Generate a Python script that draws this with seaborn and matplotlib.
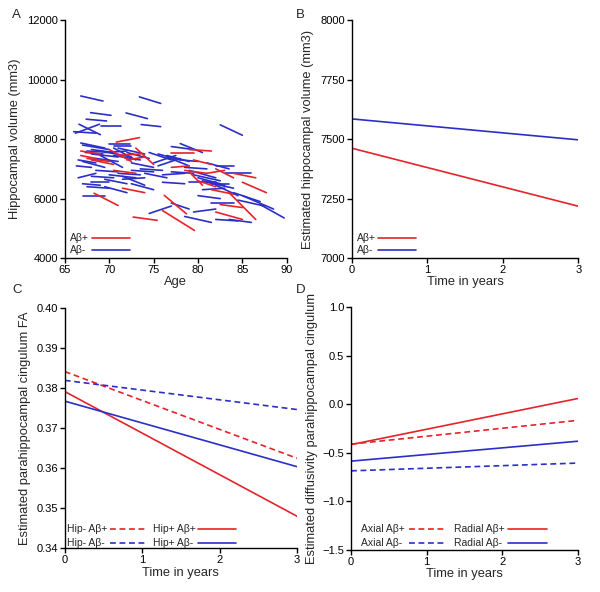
import matplotlib
matplotlib.use("Agg")
import matplotlib.pyplot as plt
import matplotlib.ticker as mticker
import pandas as pd
import seaborn as sns

RED = "#E5232B"
BLUE = "#2B2FC7"

# Panel A: individual trajectories (age start, age end, volume start, volume end)
A_NEG_AGE0 = [66.8, 73.4, 67.9, 71.9, 67.4, 69.1, 73.6, 66.2, 66.6, 66.0, 82.5,
              66.8, 67.0, 70.0, 70.5, 67.5, 67.3, 68.0, 69.0, 70.5, 71.0, 66.5, 67.0,
              68.5, 66.3, 69.0, 72.0, 66.5, 68.0, 69.5, 70.0, 71.5, 72.5, 67.0, 67.5,
              68.0, 67.0, 71.0, 72.5, 71.5, 69.5,
              74.5, 75.5, 76.5, 75.5, 77.0, 78.0, 76.0, 77.0, 78.5, 79.0, 80.0, 80.5,
              79.0, 81.0, 81.5, 82.0, 74.5, 77.0, 78.5, 79.5, 80.0, 81.5, 81.0, 82.0,
              83.0, 84.0, 85.0, 87.0, 82.0, 83.5, 74.0, 76.0,
              68.0, 69.5, 70.5, 72.5, 73.5, 75.0, 76.5, 78.0, 79.5, 80.5, 84.5, 68.5]
A_NEG_AGE1 = [69.3, 75.8, 70.2, 74.3, 69.7, 71.3, 75.8, 68.9, 69.0, 68.5, 85.0,
              69.5, 70.0, 72.3, 72.5, 70.5, 69.3, 71.0, 72.5, 73.0, 74.0, 68.5, 69.5,
              71.0, 68.0, 71.5, 74.5, 68.5, 70.5, 72.0, 73.0, 74.0, 75.0, 69.0, 70.0,
              70.0, 69.5, 73.5, 75.0, 74.0, 72.0,
              77.0, 78.0, 79.0, 78.0, 79.5, 80.5, 78.5, 79.5, 81.0, 82.0, 82.5, 83.0,
              82.0, 84.0, 83.5, 84.5, 77.0, 79.0, 81.5, 82.0, 82.5, 84.0, 83.5, 84.0,
              86.0, 87.0, 88.5, 89.7, 84.5, 86.0, 76.5, 78.5,
              70.5, 72.0, 73.5, 75.0, 76.0, 77.5, 79.0, 80.0, 82.5, 83.0, 87.5, 71.0]
A_NEG_VOL0 = [9450, 9420, 8890, 8880, 8670, 8450, 8490, 8200, 8500, 8250, 8480,
              7870, 7800, 7850, 7780, 7600, 7550, 7500, 7600, 7700, 7700, 7300, 7250,
              7350, 7100, 7450, 7550, 6700, 6750, 6650, 6800, 6750, 6500, 6500, 6400,
              6550, 6100, 6850, 6950, 6650, 6400,
              7550, 7500, 7400, 7100, 7750, 7850, 6800, 6900, 7050, 6950, 6700, 6600,
              6550, 6550, 6500, 6450, 5500, 5850, 5400, 5550, 6100, 5850, 7200, 7100,
              6850, 6200, 6100, 5800, 5300, 5300, 6850, 6550,
              7650, 7550, 7450, 7200, 7000, 7200, 7450, 7300, 6800, 6300, 5950, 6950]
A_NEG_VOL1 = [9280, 9200, 8800, 8690, 8610, 8450, 8420, 8500, 8150, 8200, 8130,
              7700, 7650, 7850, 7780, 7550, 7500, 7400, 7400, 7300, 7500, 7200, 7050,
              7250, 7050, 7050, 7350, 6850, 6700, 6500, 6700, 6450, 6300, 6450, 6350,
              6550, 6100, 6800, 6900, 6700, 6200,
              7300, 7300, 7100, 7350, 7650, 7550, 6850, 6850, 7000, 6700, 6500, 6450,
              6550, 6350, 6500, 6100, 5750, 5650, 5200, 5650, 6000, 5850, 7000, 7100,
              6850, 5900, 5650, 5350, 5250, 5200, 6700, 6500,
              7550, 7600, 7300, 7050, 6950, 7450, 7250, 7250, 6600, 6350, 5750, 6900]

A_POS_AGE0 = [70.8, 73.0, 66.8, 68.0, 70.0, 71.0, 66.8, 70.5, 71.5, 68.3, 72.7,
              76.2, 76.0, 77.0, 79.0, 77.0, 78.5, 81.0, 82.0, 84.0, 85.0, 79.0,
              83.5, 82.5, 82.0, 80.0, 67.5, 72.0, 79.5, 81.5]
A_POS_AGE1 = [73.4, 75.0, 68.5, 70.5, 72.5, 73.5, 69.0, 73.0, 74.0, 71.0, 75.4,
              78.7, 79.6, 79.5, 81.5, 79.0, 81.0, 83.0, 84.0, 86.5, 87.7, 80.5,
              86.5, 85.0, 85.0, 82.0, 70.0, 74.0, 81.5, 84.0]
A_POS_VOL0 = [7900, 7700, 7450, 7300, 7650, 7450, 7600, 6950, 6350, 6180, 5380,
              6110, 5600, 7550, 7650, 7050, 6950, 6850, 7000, 6850, 6550, 6900,
              6200, 5800, 5550, 6600, 7350, 7300, 7300, 6300]
A_POS_VOL1 = [8050, 7150, 7350, 7150, 7250, 7500, 7500, 6850, 6200, 5770, 5270,
              5490, 4930, 7550, 7600, 7100, 6850, 6950, 6700, 6700, 6200, 6450,
              5300, 5700, 5300, 6400, 7250, 7400, 7150, 6150]

# Panel B: estimated hippocampal volume
TIME = [0, 3]
B_POS = [7462, 7218]
B_NEG = [7585, 7497]

# Panel C: estimated parahippocampal cingulum FA
C_HIPNEG_POS = [0.3842, 0.3625]
C_HIPNEG_NEG = [0.3820, 0.3747]
C_HIPPOS_POS = [0.3792, 0.3480]
C_HIPPOS_NEG = [0.3768, 0.3604]

# Panel D: estimated diffusivity
D_AXIAL_POS = [-0.41, -0.165]
D_AXIAL_NEG = [-0.685, -0.605]
D_RADIAL_POS = [-0.415, 0.06]
D_RADIAL_NEG = [-0.585, -0.38]
D_YTICKS = [-1.5, -1.0, -0.5, 0.0, 0.5, 1.0]
D_YTICKLABELS = ["\u22121.5", "\u22121.0", "\u22120.5", "0.0", "0.5", "1.0"]

DASH = (3.5, 2.2)
TICK_FS = 8
LABEL_FS = 9.3
LEGEND_FS = 7.5


def segments_frame(age0, age1, vol0, vol1, group, offset):
    rows = []
    for i, (a0, a1, v0, v1) in enumerate(zip(age0, age1, vol0, vol1)):
        rows.append({"id": offset + i, "age": a0, "vol": v0, "group": group})
        rows.append({"id": offset + i, "age": a1, "vol": v1, "group": group})
    return pd.DataFrame(rows)


def lines_frame(series):
    rows = []
    for name, (vals, grp, kind) in series.items():
        for t, v in zip(TIME, vals):
            rows.append({"time": t, "value": v, "name": name, "group": grp, "kind": kind})
    return pd.DataFrame(rows)


def style_axis(ax):
    sns.despine(ax=ax)
    for side in ["left", "bottom"]:
        ax.spines[side].set_color("black")
        ax.spines[side].set_linewidth(1.0)
    ax.tick_params(direction="out", length=3.5, width=1.0, colors="black",
                   labelsize=TICK_FS, pad=1.5)


def draw_legend(ax, entries):
    # entries: (label, text_x, line_x0, line_x1, y, color, dashed) in axes fraction
    for label, tx, lx0, lx1, y, color, dashed in entries:
        ax.text(tx, y, label, transform=ax.transAxes, fontsize=LEGEND_FS,
                ha="left", va="center")
        ln, = ax.plot([lx0, lx1], [y, y], transform=ax.transAxes, color=color,
                      lw=1.2, clip_on=False)
        if dashed:
            ln.set_dashes(DASH)


def main():
    sns.set_style("ticks")
    plt.rcParams["font.family"] = ["Liberation Sans", "DejaVu Sans"]

    fig = plt.figure(figsize=(6.0, 5.92), dpi=100)
    ax_a = fig.add_axes([0.108, 0.564, 0.370, 0.402])
    ax_b = fig.add_axes([0.586, 0.564, 0.378, 0.402])
    ax_c = fig.add_axes([0.108, 0.074, 0.387, 0.405])
    ax_d = fig.add_axes([0.585, 0.071, 0.378, 0.410])
    pal = {"Ab+": RED, "Ab-": BLUE}
    dash_map = {"d": DASH, "s": ""}

    # A
    df_a = pd.concat([
        segments_frame(A_NEG_AGE0, A_NEG_AGE1, A_NEG_VOL0, A_NEG_VOL1, "Ab-", 0),
        segments_frame(A_POS_AGE0, A_POS_AGE1, A_POS_VOL0, A_POS_VOL1, "Ab+", 1000),
    ])
    sns.lineplot(data=df_a, x="age", y="vol", hue="group", units="id", estimator=None,
                 palette=pal, linewidth=1.2, legend=False, ax=ax_a, sort=False)
    ax_a.set_xlim(65, 90)
    ax_a.set_ylim(4000, 12000)
    ax_a.set_xticks([65, 70, 75, 80, 85, 90])
    ax_a.set_yticks([4000, 6000, 8000, 10000, 12000])
    ax_a.set_xlabel("Age", fontsize=LABEL_FS, labelpad=1)
    ax_a.set_ylabel("Hippocampal volume (mm3)", fontsize=LABEL_FS, labelpad=4)
    style_axis(ax_a)
    draw_legend(ax_a, [("A\u03b2+", 0.023, 0.122, 0.293, 0.084, RED, False),
                       ("A\u03b2-", 0.023, 0.122, 0.293, 0.034, BLUE, False)])

    # B
    df_b = lines_frame({"A\u03b2+": (B_POS, "Ab+", "s"), "A\u03b2-": (B_NEG, "Ab-", "s")})
    sns.lineplot(data=df_b, x="time", y="value", hue="group", palette=pal,
                 linewidth=1.2, legend=False, ax=ax_b)
    ax_b.set_xlim(0, 3)
    ax_b.set_ylim(7000, 8000)
    ax_b.set_xticks([0, 1, 2, 3])
    ax_b.set_yticks([7000, 7250, 7500, 7750, 8000])
    ax_b.set_xlabel("Time in years", fontsize=LABEL_FS, labelpad=1)
    ax_b.set_ylabel("Estimated hippocampal volume (mm3)", fontsize=LABEL_FS, labelpad=4)
    style_axis(ax_b)
    draw_legend(ax_b, [("A\u03b2+", 0.022, 0.115, 0.282, 0.084, RED, False),
                       ("A\u03b2-", 0.022, 0.115, 0.282, 0.034, BLUE, False)])

    # C
    df_c = lines_frame({
        "Hip- A\u03b2+": (C_HIPNEG_POS, "Ab+", "d"),
        "Hip- A\u03b2-": (C_HIPNEG_NEG, "Ab-", "d"),
        "Hip+ A\u03b2+": (C_HIPPOS_POS, "Ab+", "s"),
        "Hip+ A\u03b2-": (C_HIPPOS_NEG, "Ab-", "s"),
    })
    sns.lineplot(data=df_c, x="time", y="value", hue="group", style="kind", units="name",
                 estimator=None, palette=pal, dashes=dash_map, linewidth=1.2,
                 legend=False, ax=ax_c)
    ax_c.set_xlim(0, 3)
    ax_c.set_ylim(0.34, 0.40)
    ax_c.set_xticks([0, 1, 2, 3])
    ax_c.set_yticks([0.34, 0.35, 0.36, 0.37, 0.38, 0.39, 0.40])
    ax_c.yaxis.set_major_formatter(mticker.StrMethodFormatter("{x:.2f}"))
    ax_c.set_xlabel("Time in years", fontsize=LABEL_FS, labelpad=1)
    ax_c.set_ylabel("Estimated parahippocampal cingulum FA", fontsize=LABEL_FS, labelpad=4)
    style_axis(ax_c)
    draw_legend(ax_c, [("Hip- A\u03b2+", 0.009, 0.194, 0.358, 0.079, RED, True),
                       ("Hip- A\u03b2-", 0.009, 0.194, 0.358, 0.021, BLUE, True),
                       ("Hip+ A\u03b2+", 0.379, 0.573, 0.737, 0.079, RED, False),
                       ("Hip+ A\u03b2-", 0.379, 0.573, 0.737, 0.021, BLUE, False)])

    # D
    df_d = lines_frame({
        "Axial A\u03b2+": (D_AXIAL_POS, "Ab+", "d"),
        "Axial A\u03b2-": (D_AXIAL_NEG, "Ab-", "d"),
        "Radial A\u03b2+": (D_RADIAL_POS, "Ab+", "s"),
        "Radial A\u03b2-": (D_RADIAL_NEG, "Ab-", "s"),
    })
    sns.lineplot(data=df_d, x="time", y="value", hue="group", style="kind", units="name",
                 estimator=None, palette=pal, dashes=dash_map, linewidth=1.2,
                 legend=False, ax=ax_d)
    ax_d.set_xlim(0, 3)
    ax_d.set_ylim(-1.5, 1.0)
    ax_d.set_xticks([0, 1, 2, 3])
    ax_d.set_yticks(D_YTICKS)
    ax_d.set_yticklabels(D_YTICKLABELS)
    ax_d.set_xlabel("Time in years", fontsize=LABEL_FS, labelpad=1)
    ax_d.set_ylabel("Estimated diffusivity parahippocampal cingulum", fontsize=LABEL_FS,
                    labelpad=3)
    style_axis(ax_d)
    draw_legend(ax_d, [("Axial A\u03b2+", 0.044, 0.256, 0.423, 0.086, RED, True),
                       ("Axial A\u03b2-", 0.044, 0.256, 0.423, 0.029, BLUE, True),
                       ("Radial A\u03b2+", 0.454, 0.692, 0.863, 0.086, RED, False),
                       ("Radial A\u03b2-", 0.454, 0.692, 0.863, 0.029, BLUE, False)])

    # panel letters
    for letter, (x, y) in zip("ABCD", [(12, 15), (296, 15), (12, 290), (296, 290)]):
        fig.text(x / 600, 1 - y / 592, letter, fontsize=9.5, ha="left", va="center")

    fig.savefig("out.png", dpi=100)
    plt.close(fig)


if __name__ == "__main__":
    main()
